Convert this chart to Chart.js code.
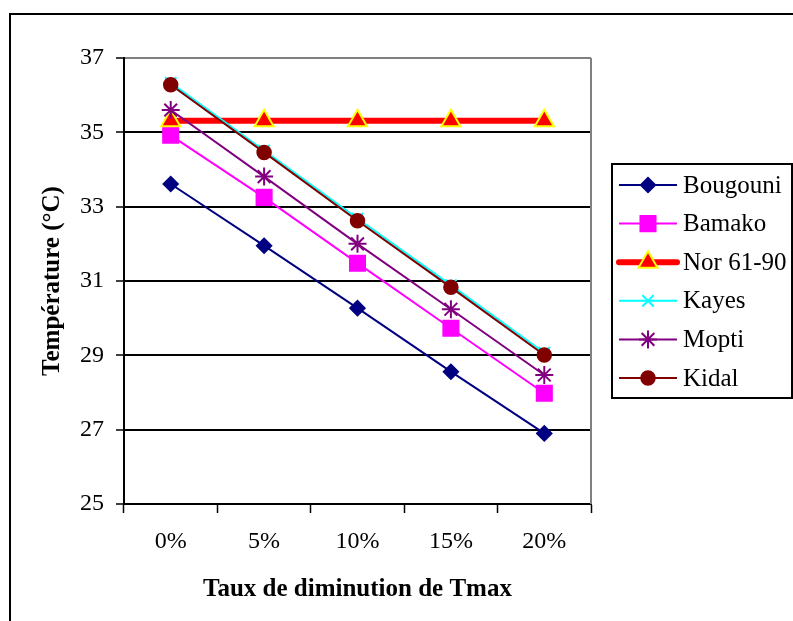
<!DOCTYPE html>
<html lang="fr">
<head>
<meta charset="UTF-8">
<title>Température et taux de diminution de Tmax</title>
<script src="https://cdn.jsdelivr.net/npm/chart.js"></script>
<style>
    body { margin: 0; background: #fff; }
    canvas { display: block; }
</style>
</head>
<body>
<canvas id="tempChart" width="793" height="621"></canvas>
<script>
// Taux de diminution (axe X)
const taux = ['0%', '5%', '10%', '15%', '20%'];

// Températures par station (°C)
const bougouni = [33.61, 31.95, 30.27, 28.56, 26.90];
const bamako   = [34.92, 33.25, 31.48, 29.73, 27.98];
const nor6190  = [35.31, 35.31, 35.31, 35.31, 35.31];
const kayes    = [36.33, 34.51, 32.68, 30.89, 29.07];
const mopti    = [35.60, 33.81, 32.00, 30.24, 28.47];
const kidal    = [36.28, 34.46, 32.62, 30.83, 29.01];

const yTicks = [25, 27, 29, 31, 33, 35, 37];

const serif = '"Liberation Serif", "Times New Roman", serif';

function serie(label, data, color, style, radius, extra) {
    return Object.assign({
        label: label,
        data: data,
        borderColor: color,
        backgroundColor: color,
        borderWidth: 2,
        pointStyle: style,
        pointRadius: radius,
        pointHoverRadius: radius,
        pointBackgroundColor: color,
        pointBorderColor: color,
        pointBorderWidth: 1.5,
        tension: 0
    }, extra || {});
}

const datasets = [
    serie('Bougouni', bougouni, '#000080', 'rectRot', 7.5),
    serie('Bamako', bamako, '#FF00FF', 'rect', 11),
    serie('Nor 61-90', nor6190, '#FF0000', 'triangle', 11,
        { borderWidth: 6, pointBorderColor: '#FFFF00', pointBorderWidth: 2 }),
    serie('Kayes', kayes, '#00FFFF', 'crossRot', 8, { pointBorderWidth: 2 }),
    serie('Mopti', mopti, '#800080', 'star', 9, { pointBorderWidth: 2 }),
    serie('Kidal', kidal, '#800000', 'circle', 7)
];
// la dernière série est dessinée au-dessus
datasets.forEach((d, i) => { d.order = datasets.length - i; });

// cadre extérieur, bordure grise du tracé et légende
const decor = {
    id: 'decor',
    beforeDraw(chart) {
        const ctx = chart.ctx;
        ctx.save();
        ctx.fillStyle = '#fff';
        ctx.fillRect(0, 0, chart.width, chart.height);
        ctx.strokeStyle = '#000';
        ctx.lineWidth = 2;
        ctx.beginPath();
        ctx.moveTo(10, chart.height);
        ctx.lineTo(10, 14);
        ctx.lineTo(chart.width, 14);
        ctx.stroke();
        ctx.restore();
    },
    beforeDatasetsDraw(chart) {
        const a = chart.chartArea, ctx = chart.ctx;
        ctx.save();
        ctx.strokeStyle = '#808080';
        ctx.lineWidth = 2;
        ctx.beginPath();
        ctx.moveTo(a.right, a.top);
        ctx.lineTo(a.right, a.bottom);
        ctx.stroke();
        ctx.restore();
    },
    afterDraw(chart) {
        const ctx = chart.ctx;
        const boxX = 612, boxY = 164, boxW = 180, boxH = 234;
        ctx.save();
        ctx.fillStyle = '#fff';
        ctx.fillRect(boxX, boxY, boxW, boxH);
        ctx.strokeStyle = '#000';
        ctx.lineWidth = 2;
        ctx.strokeRect(boxX, boxY, boxW, boxH);
        ctx.font = '25px ' + serif;
        ctx.textBaseline = 'middle';
        datasets.forEach((d, i) => {
            const y = boxY + 21 + i * 38.6;
            ctx.strokeStyle = d.borderColor;
            ctx.lineWidth = d.borderWidth;
            ctx.lineCap = d.borderWidth > 3 ? 'round' : 'butt';
            ctx.beginPath();
            ctx.moveTo(619, y);
            ctx.lineTo(677, y);
            ctx.stroke();
            ctx.fillStyle = d.pointBackgroundColor;
            ctx.strokeStyle = d.pointBorderColor;
            ctx.lineWidth = d.pointBorderWidth;
            Chart.helpers.drawPoint(ctx, {
                pointStyle: d.pointStyle,
                radius: d.pointRadius,
                rotation: 0,
                borderWidth: d.pointBorderWidth
            }, 648, y);
            ctx.fillStyle = '#000';
            ctx.fillText(d.label, 683, y + 1);
        });
        ctx.restore();
    }
};

new Chart(document.getElementById('tempChart'), {
    type: 'line',
    data: { labels: taux, datasets: datasets },
    plugins: [decor],
    options: {
        responsive: false,
        animation: false,
        layout: { padding: { left: 0, top: 58, right: 202, bottom: 0 } },
        plugins: {
            legend: { display: false },
            tooltip: { enabled: false }
        },
        scales: {
            x: {
                offset: true,
                afterFit(scale) { scale.height = 117; },
                grid: {
                    offset: true,
                    drawOnChartArea: false,
                    tickLength: 9,
                    tickColor: '#000',
                    tickWidth: 1.5
                },
                border: { color: '#000', width: 2 },
                ticks: {
                    color: '#000',
                    padding: 14,
                    maxRotation: 0,
                    font: { family: serif, size: 24 }
                },
                title: {
                    display: true,
                    text: 'Taux de diminution de Tmax',
                    color: '#000',
                    padding: { top: 0, bottom: 16 },
                    font: { family: serif, size: 25, weight: 'bold' }
                }
            },
            y: {
                min: yTicks[0],
                max: yTicks[yTicks.length - 1],
                afterFit(scale) { scale.width = 124; },
                afterBuildTicks(scale) { scale.ticks = yTicks.map(v => ({ value: v })); },
                grid: {
                    color: ctx => ctx.tick && ctx.tick.value === 37 ? '#808080' : '#000',
                    lineWidth: 2,
                    tickLength: 8,
                    tickColor: '#000',
                    tickWidth: 1.5
                },
                border: { color: '#000', width: 2 },
                ticks: {
                    color: '#000',
                    padding: 12,
                    font: { family: serif, size: 24 }
                },
                title: {
                    display: true,
                    text: 'Température (°C)',
                    color: '#000',
                    padding: { top: 38, bottom: 0 },
                    font: { family: serif, size: 25, weight: 'bold' }
                }
            }
        }
    }
});
</script>
</body>
</html>
